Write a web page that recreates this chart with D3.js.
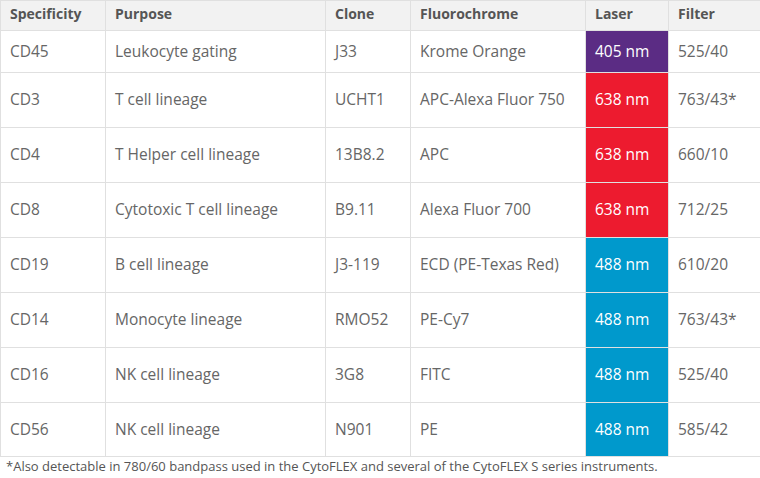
<!DOCTYPE html><html><head><meta charset="utf-8">
<script src="https://cdn.jsdelivr.net/npm/d3@7"></script>
<style>body{margin:0;background:#fff}</style></head><body><svg id="c" width="760" height="478"></svg>
<script>
const headers=["Specificity","Purpose","Clone","Fluorochrome","Laser","Filter"];
const specificity=["CD45","CD3","CD4","CD8","CD19","CD14","CD16","CD56"];
const purpose=["Leukocyte gating","T cell lineage","T Helper cell lineage","Cytotoxic T cell lineage","B cell lineage","Monocyte lineage","NK cell lineage","NK cell lineage"];
const clone=["J33","UCHT1","13B8.2","B9.11","J3-119","RMO52","3G8","N901"];
const fluoro=["Krome Orange","APC-Alexa Fluor 750","APC","Alexa Fluor 700","ECD (PE-Texas Red)","PE-Cy7","FITC","PE"];
const laser=["405 nm","638 nm","638 nm","638 nm","488 nm","488 nm","488 nm","488 nm"];
const filter=["525/40","763/43*","660/10","712/25","610/20","763/43*","525/40","585/42"];
const laserColors={"405 nm":"#5b2c84","638 nm":"#ed1b2f","488 nm":"#0099cc"};
const footnote="*Also detectable in 780/60 bandpass used in the CytoFLEX and several of the CytoFLEX S series instruments.";
const colX=[0,105,325,410,585,668,760];
const rowY=[0,30,72,127,182,237,292,347,402,456];
const svg=d3.select("#c");
const font="'Liberation Sans Narrow','Open Sans',sans-serif";
svg.append("rect").attr("x",0).attr("y",0).attr("width",760).attr("height",30).attr("fill","#f2f2f2");
const cols=[specificity,purpose,clone,fluoro,laser,filter];
specificity.forEach((_,r)=>{
  const y0=rowY[r+1],y1=rowY[r+2];
  svg.append("rect").attr("x",colX[4]).attr("y",y0).attr("width",colX[5]-colX[4]).attr("height",y1-y0).attr("fill",laserColors[laser[r]]);
});
// grid
colX.forEach(x=>svg.append("line").attr("x1",x+0.5).attr("x2",x+0.5).attr("y1",0).attr("y2",456).attr("stroke","#e0e0e0"));
rowY.forEach(y=>svg.append("line").attr("x1",0).attr("x2",760).attr("y1",y+0.5).attr("y2",y+0.5).attr("stroke","#e0e0e0"));
headers.forEach((h,i)=>svg.append("text").attr("x",colX[i]+10).attr("y",19).attr("font-family",font).attr("font-weight","bold").attr("font-size",14).attr("fill","#555").text(h));
cols.forEach((col,i)=>col.forEach((v,r)=>{
  const y0=rowY[r+1],y1=rowY[r+2];
  svg.append("text").attr("x",colX[i]+(i==4?10:10)).attr("y",(y0+y1)/2+5.5).attr("font-family",font).attr("font-size",15.5).attr("fill",i==4?"#fff":"#666").text(v);
}));
svg.append("text").attr("x",6).attr("y",471).attr("font-family",font).attr("font-size",13).attr("fill","#555").text(footnote);
</script></body></html>
